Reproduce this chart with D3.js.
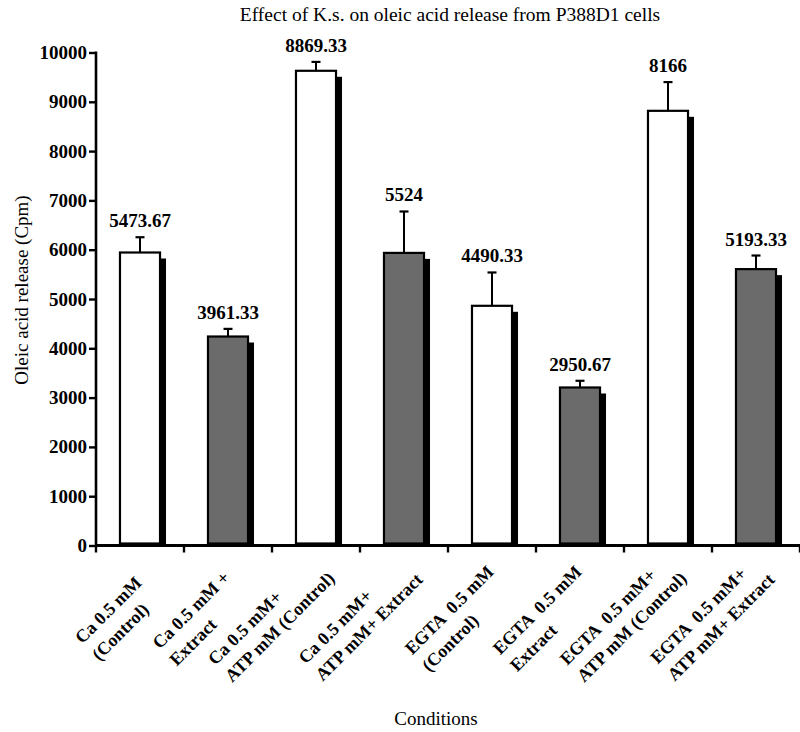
<!DOCTYPE html>
<html>
<head>
<meta charset="utf-8">
<script src="https://cdn.jsdelivr.net/npm/d3@7"></script>
<style>
  body { margin: 0; background: #fff; }
  text { font-family: "Liberation Serif", "Times New Roman", serif; fill: #000; }
</style>
</head>
<body>
<svg id="chart" width="800" height="732"></svg>
<script>
// conditions, two lines each
var categories = [
  ["Ca 0.5 mM", "(Control)"],
  ["Ca 0.5 mM +", "Extract"],
  ["Ca 0.5 mM+", "ATP mM (Control)"],
  ["Ca 0.5 mM+", "ATP mM+ Extract"],
  ["EGTA  0.5 mM", "(Control)"],
  ["EGTA  0.5 mM", "Extract"],
  ["EGTA  0.5 mM+", "ATP mM (Control)"],
  ["EGTA  0.5 mM+", "ATP mM+ Extract"]
];
// bar heights as drawn in the figure
var barValues = [5943, 4239, 9629, 5935, 4862, 3205, 8817, 5606];
var errValues = [310, 155, 180, 840, 676, 136, 583, 276];
// numbers printed above the bars
var valueLabels = ["5473.67", "3961.33", "8869.33", "5524", "4490.33", "2950.67", "8166", "5193.33"];
var isExtract = [false, true, false, true, false, true, false, true];
var yTicks = [0, 1000, 2000, 3000, 4000, 5000, 6000, 7000, 8000, 9000, 10000];

var svg = d3.select("svg#chart");

var x = d3.scaleBand()
  .domain(d3.range(categories.length))
  .range([96, 800])
  .padding(0);

var y = d3.scaleLinear()
  .domain([0, 10000])
  .range([545.5, 52.5]);

var barW = x.bandwidth() * 0.455;
var shadow = 6;

var translate = function(a, b) {
  return "translate(" + a + "," + b + ")";
};

var rows = categories.map(function(c, i) {
  return { i: i, v: barValues[i], e: errValues[i], label: valueLabels[i], extract: isExtract[i] };
});

var plot = svg.append("g").attr("id", "plot");

// shadows first, then bars on top
plot.selectAll("rect.shadow")
  .data(rows)
  .enter().append("rect")
  .attr("class", "shadow")
  .attr("x", function(d) { return x(d.i) + x.bandwidth() / 2 - barW / 2 + shadow; })
  .attr("y", function(d) { return y(d.v) + shadow; })
  .attr("width", barW)
  .attr("height", function(d) { return y(0) - y(d.v) - shadow; })
  .attr("fill", "#000");

plot.selectAll("rect.bar")
  .data(rows)
  .enter().append("rect")
  .attr("class", "bar")
  .attr("x", function(d) { return x(d.i) + x.bandwidth() / 2 - barW / 2; })
  .attr("y", function(d) { return y(d.v); })
  .attr("width", barW)
  .attr("height", function(d) { return y(0) - y(d.v) - 2; })
  .attr("fill", function(d) { return d.extract ? "#6b6b6b" : "#fff"; })
  .attr("stroke", "#000")
  .attr("stroke-width", 2.2);

// error bars (upper only)
var err = plot.selectAll("g.err")
  .data(rows)
  .enter().append("g")
  .attr("class", "err");

err.append("line")
  .attr("x1", function(d) { return x(d.i) + x.bandwidth() / 2; })
  .attr("x2", function(d) { return x(d.i) + x.bandwidth() / 2; })
  .attr("y1", function(d) { return y(d.v); })
  .attr("y2", function(d) { return y(d.v + d.e); })
  .attr("stroke", "#000")
  .attr("stroke-width", 2);

err.append("line")
  .attr("x1", function(d) { return x(d.i) + x.bandwidth() / 2 - 4.5; })
  .attr("x2", function(d) { return x(d.i) + x.bandwidth() / 2 + 4.5; })
  .attr("y1", function(d) { return y(d.v + d.e); })
  .attr("y2", function(d) { return y(d.v + d.e); })
  .attr("stroke", "#000")
  .attr("stroke-width", 2.2);

plot.selectAll("text.val")
  .data(rows)
  .enter().append("text")
  .attr("class", "val")
  .attr("x", function(d) { return x(d.i) + x.bandwidth() / 2; })
  .attr("y", function(d) { return y(d.v + d.e) - 10; })
  .attr("text-anchor", "middle")
  .style("font-size", "19px")
  .style("font-weight", "bold")
  .text(function(d) { return d.label; });

// y axis
var yAxis = d3.axisLeft(y)
  .tickValues(yTicks)
  .tickFormat(d3.format("d"))
  .tickSize(7)
  .tickPadding(2);

var gy = svg.append("g")
  .attr("id", "y-axis")
  .attr("transform", translate(96, 0))
  .call(yAxis);
gy.select(".domain").attr("d", "M0," + (y(10000) - 1) + "V" + (y(0) + 1.5)).attr("stroke-width", 2.6);
gy.selectAll(".tick line").attr("stroke-width", 2.4);
gy.selectAll(".tick text")
  .style("font-family", "Liberation Serif, serif")
  .style("font-size", "19px")
  .style("font-weight", "bold");

// x axis, ticks at the category boundaries
var bounds = x.domain().map(function(i) { return x(i); }).concat([800]);
var gx = svg.append("g").attr("id", "x-axis");
gx.append("line")
  .attr("x1", 95).attr("x2", 800)
  .attr("y1", y(0)).attr("y2", y(0))
  .attr("stroke", "#000").attr("stroke-width", 3);
gx.selectAll("line.tk")
  .data(bounds)
  .enter().append("line")
  .attr("class", "tk")
  .attr("x1", function(d) { return d; })
  .attr("x2", function(d) { return d; })
  .attr("y1", y(0))
  .attr("y2", y(0) + 7)
  .attr("stroke", "#000")
  .attr("stroke-width", 2.4);

// rotated two-line category labels
var lineH = 24;
categories.forEach(function(lines, i) {
  var g = svg.append("g");
  var t = g.append("text")
    .style("font-size", "18px")
    .style("font-weight", "bold")
    .style("white-space", "pre");
  lines.forEach(function(s, k) {
    t.append("tspan")
      .attr("x", 0)
      .attr("y", -lineH * lines.length / 2 + lineH * k + lineH / 2 + 6)
      .text(s);
  });
  var w = d3.max(t.selectAll("tspan").nodes(), function(n) { return n.getComputedTextLength(); });
  var h = lineH * lines.length;
  t.selectAll("tspan").attr("x", -w / 2);
  var cx = x(i) + x.bandwidth() / 2 + 24 - 0.354 * (w + h);
  var cy = y(0) + 73;
  g.attr("transform", translate(cx, cy) + " rotate(-45)");
});

// titles
svg.append("text")
  .attr("x", 450)
  .attr("y", 21)
  .attr("text-anchor", "middle")
  .style("font-size", "19.5px")
  .text("Effect of K.s. on oleic acid release from P388D1 cells");

svg.append("text")
  .attr("x", 436)
  .attr("y", 725)
  .attr("text-anchor", "middle")
  .style("font-size", "19px")
  .text("Conditions");

svg.append("text")
  .attr("transform", translate(28, 290) + " rotate(-90)")
  .attr("text-anchor", "middle")
  .style("font-size", "19px")
  .text("Oleic acid release (Cpm)");
</script>
</body>
</html>
